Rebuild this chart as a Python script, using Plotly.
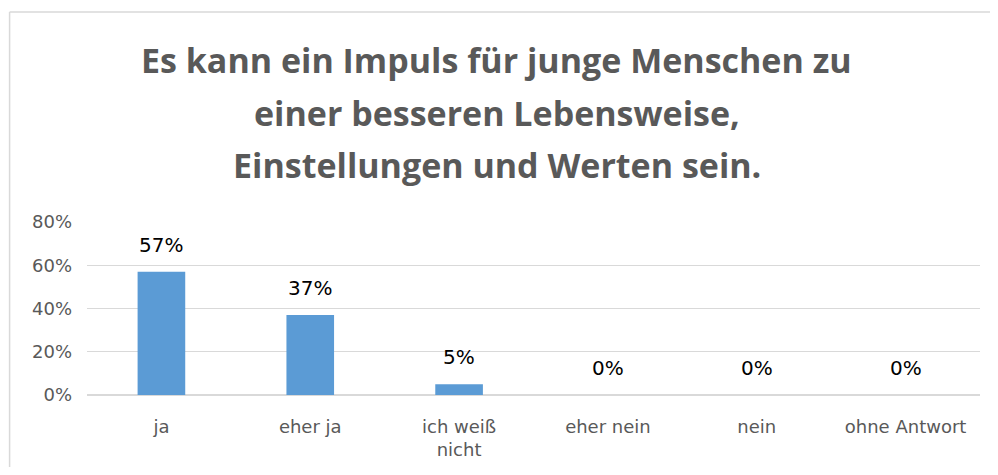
import plotly.graph_objects as go

categories = ["ja", "eher ja", "ich weiß<br>nicht", "eher nein", "nein", "ohne Antwort"]
values = [57, 37, 5, 0, 0, 0]
labels = ["57%", "37%", "5%", "0%", "0%", "0%"]
tick_vals = [0, 20, 40, 60, 80]
tick_text = ["0%", "20%", "40%", "60%", "80%"]
title_lines = ["Es kann ein Impuls für junge Menschen zu",
               "einer besseren Lebensweise,",
               "Einstellungen und Werten sein."]

W, H = 982, 459
L, R, T, B = 78.5, 9.5, 214, 72
PW, PH = W - L - R, H - T - B

fig = go.Figure(go.Bar(
    x=categories, y=values,
    marker=dict(color="#5b9bd5", line=dict(width=0)),
    width=0.32, hoverinfo="x+y",
))

for c, v, t in zip(categories, values, labels):
    fig.add_annotation(x=c, y=v, text=t, showarrow=False, yshift=27,
                       xanchor="center", yanchor="middle",
                       font=dict(family="DejaVu Sans", size=20, color="#000000"))

title_y = [52, 105, 157]
for line, ty in zip(title_lines, title_y):
    fig.add_annotation(text="<b>" + line + "</b>", xref="paper", yref="paper",
                       x=(488.5 - L) / PW, y=1.0, yshift=T - ty, showarrow=False,
                       xanchor="center", yanchor="middle",
                       font=dict(family="Open Sans", size=34, color="#595959"))

# chart-area border (top and left edges visible)
bx = (1 - L) / PW
by = 1 + (T - 4) / PH
fig.add_shape(type="line", xref="paper", yref="paper", x0=bx, x1=1 + (R + 5) / PW,
              y0=by, y1=by, line=dict(color="#d9d9d9", width=1.5))
fig.add_shape(type="line", xref="paper", yref="paper", x0=bx, x1=bx,
              y0=by, y1=-(B + 5) / PH, line=dict(color="#d9d9d9", width=1.5))

fig.update_layout(
    width=W, height=H,
    margin=dict(l=L, r=R, t=T, b=B, autoexpand=False),
    plot_bgcolor="white", paper_bgcolor="white",
    showlegend=False,
    yaxis=dict(range=[0, 80], tickvals=tick_vals, ticktext=tick_text,
               automargin=False,
               showgrid=True, gridcolor="#d9d9d9", gridwidth=1,
               zeroline=True, zerolinecolor="#d9d9d9", showline=False,
               ticks="", ticklabelstandoff=14,
               tickfont=dict(family="DejaVu Sans", size=18, color="#595959")),
    xaxis=dict(showgrid=False, showline=False, ticks="", ticklabelstandoff=19,
               automargin=False,
               tickfont=dict(family="DejaVu Sans", size=18, color="#595959")),
)

fig.write_html("out.html")
